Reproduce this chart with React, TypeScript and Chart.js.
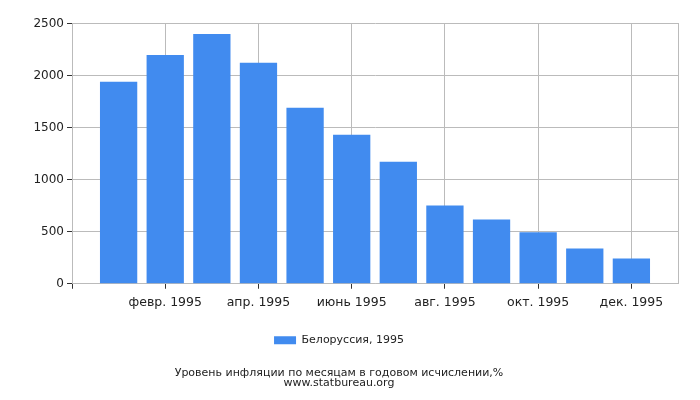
import React, { useEffect, useRef } from 'react';
import { Chart, registerables } from 'chart.js';

Chart.register(...registerables);

// month positions on a linear x axis (1 = Jan ... 12 = Dec)
const monthPositions = [1, 2, 3, 4, 5, 6, 7, 8, 9, 10, 11, 12];
const inflationValues = [1940, 2198, 2400, 2122, 1690, 1431, 1173, 751, 617, 495, 339, 243];
const tickPositions = [0, 2, 4, 6, 8, 10, 12, 13];
const tickLabels: Record<number, string> = {
  2: 'февр. 1995',
  4: 'апр. 1995',
  6: 'июнь 1995',
  8: 'авг. 1995',
  10: 'окт. 1995',
  12: 'дек. 1995',
};
const seriesLabel = 'Белоруссия, 1995';
const titleLines = ['Уровень инфляции по месяцам в годовом исчислении,%', 'www.statbureau.org'];

const FONT = "'DejaVu Sans', sans-serif";

const App: React.FC = () => {
  const ref = useRef<HTMLCanvasElement>(null);
  const chartRef = useRef<Chart | null>(null);

  useEffect(() => {
    if (!ref.current) return;
    if (chartRef.current) chartRef.current.destroy();

    chartRef.current = new Chart(ref.current, {
      type: 'bar',
      data: {
        datasets: [
          {
            label: seriesLabel,
            data: monthPositions.map((m, i) => ({ x: m, y: inflationValues[i] })),
            backgroundColor: '#418bef',
            barPercentage: 0.8,
            categoryPercentage: 1,
          },
        ],
      },
      options: {
        animation: false,
        responsive: true,
        maintainAspectRatio: false,
        layout: { padding: { left: 0, right: 22, top: 23.5, bottom: 12 } },
        scales: {
          x: {
            type: 'linear',
            min: 0,
            max: 13,
            offset: false,
            afterBuildTicks: (scale: any) => {
              scale.ticks = tickPositions.map(v => ({ value: v }));
            },
            afterFit: (scale: any) => {
              scale.height = 33;
            },
            grid: {
              offset: false,
              color: '#bbbbbb',
              tickLength: 5,
              tickColor: (ctx: any) => (ctx.tick && ctx.tick.value === 13 ? 'rgba(0,0,0,0)' : '#333333'),
            },
            border: { color: '#bbbbbb' },
            ticks: {
              autoSkip: false,
              maxRotation: 0,
              padding: 6,
              color: '#222222',
              font: { family: FONT, size: 12.5 },
              callback: (v: any) => tickLabels[v as number] ?? '',
            },
          },
          y: {
            min: 0,
            max: 2500,
            afterFit: (scale: any) => {
              scale.width = 72;
            },
            grid: { color: '#bbbbbb', tickLength: 5, tickColor: '#333333' },
            border: { color: '#bbbbbb' },
            ticks: {
              stepSize: 500,
              color: '#222222',
              padding: 3,
              font: { family: FONT, size: 12 },
              callback: (v: any) => String(v),
            },
          },
          yRight: {
            position: 'right',
            min: 0,
            max: 2500,
            grid: { display: false },
            border: { color: '#bbbbbb' },
            ticks: { display: false },
            afterFit: (scale: any) => {
              scale.width = 0;
            },
          },
        },
        plugins: {
          tooltip: { enabled: false },
          legend: {
            position: 'bottom',
            labels: {
              boxWidth: 22,
              boxHeight: 8,
              color: '#222222',
              padding: 18,
              font: { family: FONT, size: 11 },
            },
          },
          title: {
            display: true,
            position: 'bottom',
            text: titleLines,
            color: '#222222',
            font: { family: FONT, size: 11, weight: 'normal', lineHeight: 0.92 },
            padding: { top: 12, bottom: 0 },
          },
        },
      },
    } as any);

    return () => {
      if (chartRef.current) {
        chartRef.current.destroy();
        chartRef.current = null;
      }
    };
  }, []);

  return (
    <div style={{ position: 'fixed', left: 0, top: 0, width: 700, height: 400, background: '#fff' }}>
      <canvas ref={ref}></canvas>
    </div>
  );
};

export default App;
